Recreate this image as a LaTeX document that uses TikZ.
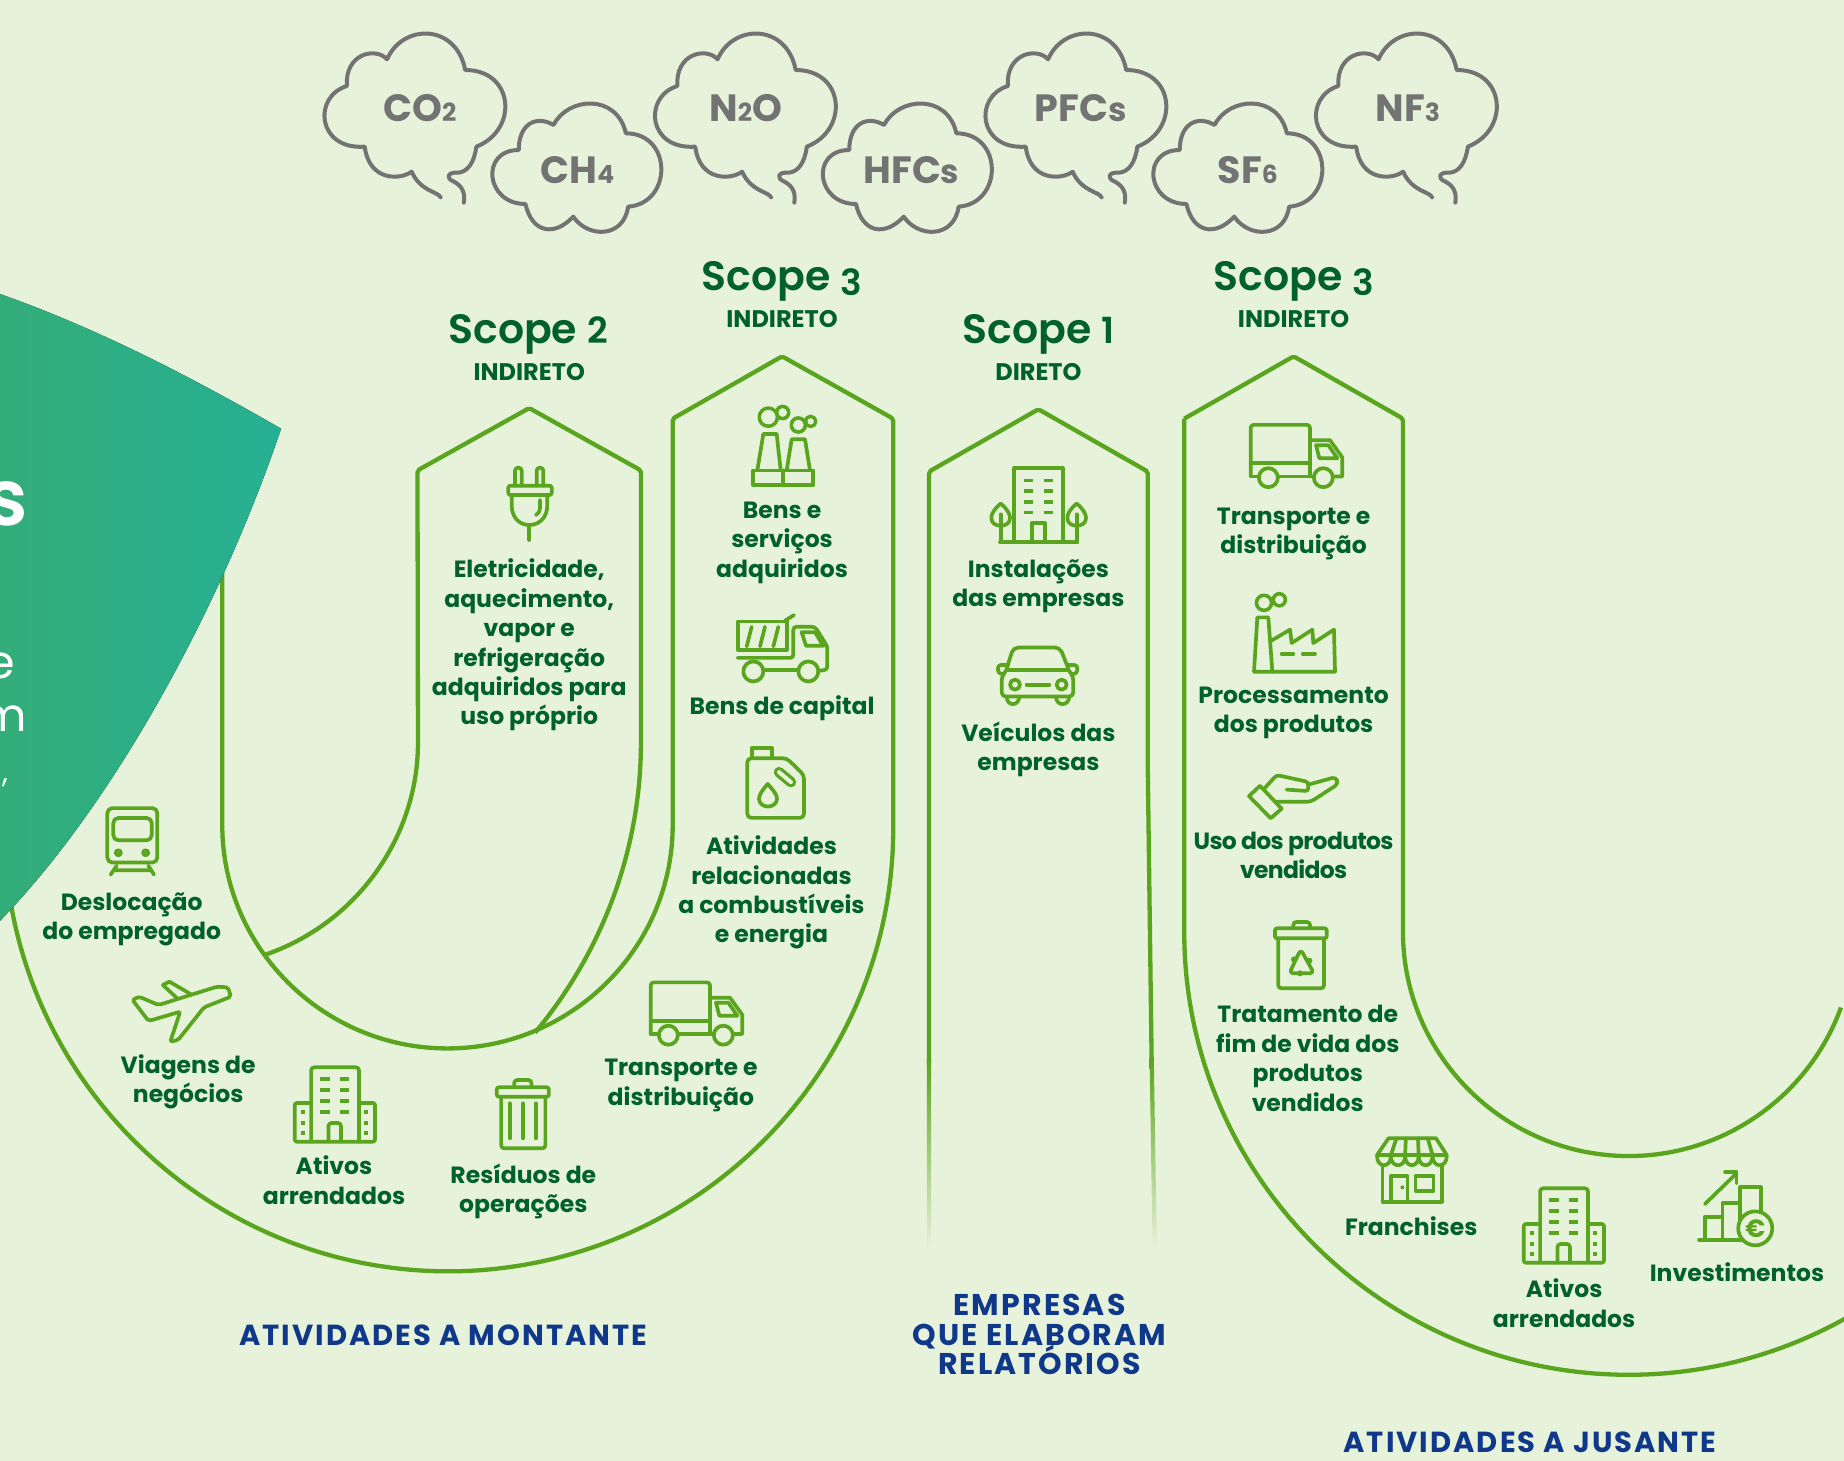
\documentclass[tikz,border=0pt]{standalone}
\usepackage{fontspec}
\setmainfont{Poppins}
\newfontfamily\itemface{Poppins}
\newfontfamily\tightface{Poppins}[LetterSpace=-3]
\newfontfamily\headface{Poppins SemiBold}
\newfontfamily\wideface{Poppins}[LetterSpace=7]
\setlength{\normallineskiplimit}{-50pt}
\setlength{\lineskiplimit}{-50pt}
\definecolor{bgc}{HTML}{E7F2DA}
\definecolor{linec}{HTML}{5AA51E}
\definecolor{dkgreen}{HTML}{00602E}
\definecolor{bluec}{HTML}{0F378A}
\definecolor{cloudc}{HTML}{737373}
\definecolor{tealL}{HTML}{33AD78}
\definecolor{tealR}{HTML}{26B094}
\tikzset{
  zoomed/.style n args={4}{shift={(#1pt,-#2pt)},x=#3pt,y=-#4pt},
  frameline/.style={draw=linec,line width=4.3pt,line join=round,rounded corners=2pt},
  ico/.style={draw=linec,line width=3.7pt,line join=round,line cap=round},
  cloudline/.style={draw=cloudc,line width=4pt,line join=round,line cap=round},
  itemtxt/.style={font=\fontsize{23.5}{29.4}\selectfont\bfseries\itemface,align=center,text=dkgreen,inner sep=0pt},
  tighttxt/.style={font=\fontsize{23.5}{29.4}\selectfont\bfseries\tightface,align=center,text=dkgreen,inner sep=0pt},
  scopetxt/.style={font=\fontsize{41}{46}\selectfont\headface,text=dkgreen,inner sep=0pt},
  kindtxt/.style={font=\fontsize{24}{28}\selectfont\bfseries,text=dkgreen,inner sep=0pt},
  bluetxt/.style={font=\fontsize{29}{29.4}\selectfont\bfseries\wideface,align=center,text=bluec,inner sep=0pt},
  bluetxtb/.style={font=\fontsize{30}{29.4}\selectfont\bfseries\wideface,align=center,text=bluec,inner sep=0pt},
  gastxt/.style={font=\fontsize{38}{40}\selectfont\bfseries,text=cloudc,inner sep=0pt},
  whitetxt/.style={text=white,inner sep=0pt,anchor=base east},
}
\newcommand\smalld[1]{{\fontsize{25}{26}\selectfont #1}}
\newcommand\smalls[1]{{\fontsize{33}{34}\selectfont #1}}
\newcommand\scdigit[1]{{\fontsize{36}{36}\selectfont #1}}
\newcommand\bigcloud[1]{\begin{scope}[zoomed={#1}{0}{0.44643}{0.33333}]
\draw[cloudline] (315,592) .. controls (310,575) and (270,575) .. (250,515)
 .. controls (225,540) and (155,545) .. (145,440)
 .. controls (38,450) and (28,290) .. (105,258)
 .. controls (100,160) and (170,140) .. (195,178)
 .. controls (230,70) and (350,70) .. (370,210)
 .. controls (480,210) and (490,390) .. (395,440)
 .. controls (390,490) and (375,515) .. (355,518)
 .. controls (330,515) and (325,535) .. (345,545)
 .. controls (365,560) and (370,580) .. (367,608);
\end{scope}}
\newcommand\smallcloud[1]{\begin{scope}[zoomed={#1}{0}{0.44643}{0.33333}]
\draw[cloudline] (505,612) .. controls (415,612) and (403,450) .. (490,450)
 .. controls (490,370) and (530,345) .. (568,375)
 .. controls (600,290) and (710,280) .. (730,400)
 .. controls (835,400) and (835,610) .. (735,620)
 .. controls (725,715) and (645,715) .. (612,650)
 .. controls (570,710) and (520,700) .. (505,612) -- cycle;
\end{scope}}
\newcommand\truckicon[2]{\begin{scope}[zoomed={#1}{#2}{0.33333}{0.38270}]
\draw[ico,rounded corners=3pt] (212,200) -- (212,65) -- (390,65) -- (390,200);
\draw[ico] (212,165) -- (390,165);
\draw[ico] (212,200) -- (235,200) (295,200) -- (400,200);
\draw[ico] (462,200) -- (487,200) -- (487,150) -- (450,105) -- (390,105);
\draw[ico] (408,118) -- (445,118) -- (472,152) -- (418,152) -- cycle;
\draw[ico] (265,203) circle[radius=9.5pt] (430,203) circle[radius=9.5pt];
\end{scope}}
\newcommand\officeicon[2]{\begin{scope}[zoomed={#1}{#2}{0.34698}{0.33333}]
\draw[ico,rounded corners=3pt] (692,488) -- (692,265) -- (830,265) -- (830,488);
\draw[ico,rounded corners=2pt] (692,372) -- (645,372) -- (645,488) -- (876,488) -- (876,372) -- (830,372);
\draw[ico,rounded corners=3pt] (742,488) -- (742,432) -- (778,432) -- (778,488);
\foreach \wy in {300,333,366,398}{\draw[ico,line cap=butt] (718,\wy) -- (745,\wy) (775,\wy) -- (802,\wy);}
\foreach \wy in {398,432,462}{\draw[ico,line cap=butt] (663,\wy) -- (673,\wy) (845,\wy) -- (855,\wy);}
\end{scope}}
\newcommand\leaficon[1]{\draw[ico] (#1,398) -- (#1,320);
\draw[ico] (#1,290) .. controls ({#1+20},305) and ({#1+28},320) .. ({#1+28},330) .. controls ({#1+28},345) and ({#1+15},352) .. (#1,352) .. controls ({#1-15},352) and ({#1-28},345) .. ({#1-28},330) .. controls ({#1-28},320) and ({#1-20},305) .. cycle;}
\begin{document}
\begin{tikzpicture}[x=1.17602pt,y=-1.17602pt]
\useasboundingbox (0,0) rectangle (1568,1242.3);
\fill[bgc] (0,0) rectangle (1568,1242.3);
\clip (0,0) rectangle (1568,1242.3);
% clouds
\bigcloud{300}\bigcloud{630.5}\bigcloud{961}\bigcloud{1291.5}
\smallcloud{300}\smallcloud{630.5}\smallcloud{961}
\node[gastxt] (co2) at (357,92) {CO\smalld{2}};
\node[gastxt] (ch4) at (491,145) {CH\smalld{4}};
\node[gastxt] (n2o) at (634,92) {N\smalld{2}O};
\node[gastxt] (hfcs) at (775,145) {HFC\smalls{s}};
\node[gastxt] (pfcs) at (919,92) {PFC\smalls{s}};
\node[gastxt] (sf6) at (1061,145) {SF\smalld{6}};
\node[gastxt] (nf3) at (1197,92) {NF\smalld{3}};
% frames
\draw[frameline] (7.2,755.6) arc[start angle=172,end angle=0,radius=378] -- (759.5,356) -- (665,303) -- (572,356) -- (572,700) arc[start angle=0,end angle=180,radius=191.5] -- (189,450);
\draw[frameline] (225,812) arc[start angle=71.2,end angle=0,radius=192.4] -- (355,400) -- (450,347) -- (545,400) -- (545,630) arc[start angle=0,end angle=39.9,radius=386.7];
\draw[frameline] (1007,356) -- (1100,303) -- (1193,356) -- (1193,791) arc[start angle=180,end angle=20,radius=192];
\draw[frameline] (1007,356) -- (1007,791) arc[start angle=180,end angle=30,radius=378];
\draw[frameline] (790,905) -- (790,401) -- (883,348) -- (976,401) -- (976,655) -- (979.3,905);
\shade[top color=linec,bottom color=bgc] (788.2,900) rectangle (791.8,1063);
\shade[top color=linec,bottom color=bgc] (977.5,900) -- (981.1,900) -- (983.7,1063) -- (980.1,1063) -- cycle;
% teal wedge
\fill[left color=tealL,right color=tealR] (0,250) .. controls (85,280) and (165,322) .. (239,364.5) .. controls (190,510) and (100,680) .. (0,783) -- cycle;
\node[whitetxt,font=\fontsize{78}{80}\selectfont\headface] (s1) at (24,447) {s};
\node[whitetxt,font=\fontsize{46}{50}\selectfont] (s2) at (13,577) {e};
\node[whitetxt,font=\fontsize{46}{50}\selectfont] (s3) at (23,622) {m};
\node[whitetxt,font=\fontsize{30}{34}\selectfont] (s4) at (7,665) {,};
% headings
\node[scopetxt] (sc2) at (449,284) {Scope \scdigit{2}};
\node[kindtxt] (k2) at (450,316.5) {INDIRETO};
\node[scopetxt] (sc3a) at (665,239) {Scope \raisebox{-.12em}{\scdigit{3}}};
\node[kindtxt] (k3a) at (665,271.5) {INDIRETO};
\node[scopetxt] (sc1) at (883,284) {Scope \scdigit{1}};
\node[kindtxt] (k1) at (883,316.5) {DIRETO};
\node[scopetxt] (sc3b) at (1100,239) {Scope \raisebox{-.12em}{\scdigit{3}}};
\node[kindtxt] (k3b) at (1100,271.5) {INDIRETO};
% items
\node[itemtxt] (el) at (450,548.5) {Eletricidade,\\aquecimento,\\vapor e\\refrigeração\\adquiridos para\\uso próprio};
\node[itemtxt] (be) at (665,461.5) {Bens e\\serviços\\adquiridos};
\node[itemtxt] (bc) at (665,602) {Bens de capital};
\node[itemtxt] (at) at (656,759) {Atividades\\relacionadas\\a combustíveis\\e energia};
\node[itemtxt] (tr1) at (579,923) {Transporte e\\distribuição};
\node[itemtxt] (re) at (445,1013) {Resíduos de\\operações};
\node[itemtxt] (ar1) at (284,1003.5) {Ativos\\arrendados};
\node[itemtxt] (vi) at (160,920) {Viagens de\\negócios};
\node[itemtxt] (de) at (112,782) {Deslocação\\do empregado};
\node[itemtxt] (ins) at (883,498.5) {Instalações\\das empresas};
\node[itemtxt] (ve) at (883,637) {Veículos das\\empresas};
\node[itemtxt] (tr2) at (1100,454) {Transporte e\\distribuição};
\node[itemtxt] (pr) at (1100,606) {Processamento\\dos produtos};
\node[tighttxt] (us) at (1100,727.5) {Uso dos produtos\\vendidos};
\node[itemtxt] (tt) at (1112,900) {Tratamento de\\fim de vida dos\\produtos\\vendidos};
\node[itemtxt] (fr) at (1200,1043) {Franchises};
\node[itemtxt] (ar2) at (1330,1108) {Ativos\\arrendados};
\node[itemtxt] (inv) at (1477,1081.5) {Investimentos};
% blue labels
\node[bluetxt] (up) at (377,1135) {ATIVIDADES A MONTANTE};
\node[bluetxtb] (rp) at (884,1135) {EMPRESAS\\QUE ELABORAM\\RELATÓRIOS};
\node[bluetxt] (dn) at (1301,1226) {ATIVIDADES A JUSANTE};
% plug
\begin{scope}[zoomed={490}{455}{0.33333}{0.33333}]
\draw[ico,rounded corners=3pt] (75,92) -- (75,38) -- (95,38) -- (95,92) (140,92) -- (140,38) -- (160,38) -- (160,92);
\draw[ico,rounded corners=2pt] (55,92) rectangle (185,120);
\draw[ico] (65,120) -- (65,150) .. controls (65,190) and (90,210) .. (118,210) .. controls (145,210) and (172,190) .. (172,150) -- (172,120);
\draw[ico] (118,210) -- (118,255);
\draw[ico] (150,135) -- (150,160) .. controls (150,170) and (145,175) .. (138,180);
\end{scope}
% factories, dump truck, canister, trees, car
\begin{scope}[zoomed={660}{400}{0.33333}{0.35714}]
\draw[ico] (280,197) rectangle (460,238) (370,197) -- (370,238);
\draw[ico] (292,197) -- (310,95) -- (350,95) -- (362,197);
\draw[ico] (380,197) -- (395,110) -- (435,110) -- (450,197);
\draw[ico] (325,48) circle[radius=9pt] (368,35) circle[radius=6pt] (415,70) circle[radius=7pt] (452,60) circle[radius=5pt];
\fill[bgc] (325,48) circle[radius=7.15pt] (368,35) circle[radius=4.15pt] (415,70) circle[radius=5.15pt] (452,60) circle[radius=3.15pt];
% dump truck
\draw[ico] (233,620) rectangle (380,700);
\draw[ico] (375,618) -- (402,602);
\draw[ico] (275,635) -- (260,690) (315,635) -- (300,690) (355,635) -- (340,690);
\draw[ico,rounded corners=3pt] (233,722) -- (400,722) -- (400,635) -- (465,635) -- (502,690) -- (502,755) -- (478,758);
\draw[ico] (425,650) -- (465,650) -- (490,688) -- (438,688) -- cycle;
\draw[ico] (280,760) circle[radius=10pt] (445,760) circle[radius=10pt];
\draw[ico] (312,755) -- (413,755);
% canister
\draw[ico,rounded corners=4pt] (262,1003) -- (380,1003) -- (432,1050) -- (432,1170) -- (262,1170) -- cycle;
\draw[ico] (275,1000) -- (275,975) -- (335,975) -- (335,1000);
\draw[linec,line width=10.5pt,line cap=round] (357,1042) -- (393,1070);
\draw[bgc,line width=4pt,line cap=round] (357,1042) -- (393,1070);
\draw[ico] (323,1075) .. controls (305,1095) and (297,1105) .. (297,1118) .. controls (300,1145) and (348,1145) .. (351,1118) .. controls (351,1105) and (342,1095) .. cycle;
% building with trees
\draw[ico,line cap=butt] (1063,398) -- (1063,190) -- (1208,190) -- (1208,398);
\draw[ico] (1020,398) -- (1252,398);
\draw[ico] (1115,398) -- (1115,345) -- (1155,345) -- (1155,398);
\foreach \wy in {225,255,285,315}{\draw[ico,line cap=butt] (1093,\wy) -- (1118,\wy) (1153,\wy) -- (1178,\wy);}
\leaficon{1022}
\leaficon{1250}
% car
\draw[ico,rounded corners=5pt] (1040,752) -- (1060,693) -- (1200,693) -- (1225,752);
\draw[ico] (1040,755) -- (1225,755);
\draw[ico,rounded corners=4pt] (1040,755) -- (1025,775) -- (1025,830) -- (1240,830) -- (1240,775) -- (1225,755);
\draw[ico,rounded corners=3pt] (1045,742) -- (1014,742) -- (1014,765) -- (1032,768);
\draw[ico,rounded corners=3pt] (1220,742) -- (1252,742) -- (1252,765) -- (1234,768);
\draw[ico] (1065,797) circle[radius=5pt] (1205,797) circle[radius=5pt];
\draw[ico] (1100,797) -- (1168,797);
\draw[ico] (1040,832) .. controls (1042,858) and (1075,858) .. (1078,832);
\draw[ico] (1188,832) .. controls (1190,858) and (1225,858) .. (1228,832);
\end{scope}
% trucks
\truckicon{1180}{400}
\truckicon{580}{957.5}
% factory, hand
\begin{scope}[zoomed={1180}{400}{0.33333}{0.38270}]
\draw[ico] (252,530) circle[radius=7.5pt] (298,522) circle[radius=6pt];
\fill[bgc] (252,530) circle[radius=5.65pt] (298,522) circle[radius=4.15pt];
\draw[ico] (222,710) -- (232,568) -- (265,568) -- (277,710);
\draw[ico] (222,710) -- (465,710) -- (462,600) -- (400,635) -- (397,600) -- (335,635) -- (330,600) -- (272,630);
\draw[ico] (305,663) -- (340,663) (368,663) -- (405,663);
\draw[ico] (207,1035) -- (240,1008) -- (305,1068) -- (272,1093) -- cycle;
\draw[ico,rounded corners=3pt] (250,1018) -- (290,980) -- (385,998) -- (385,1022) -- (320,1018);
\draw[ico,rounded corners=4pt] (385,1005) -- (468,985) -- (475,1003) -- (392,1050) -- (290,1050);
\end{scope}
% recycle bin
\begin{scope}[zoomed={1260}{910}{0.33333}{0.33333}]
\draw[ico,rounded corners=2pt] (45,55) rectangle (200,85);
\draw[ico,rounded corners=3pt] (100,55) -- (100,36) -- (150,36) -- (150,55);
\draw[ico,rounded corners=3pt] (55,85) -- (55,235) -- (192,235) -- (192,85);
\draw[ico,rounded corners=4pt] (122,118) -- (88,190) -- (162,190) -- cycle;
\fill[linec] (102,148) circle[radius=3pt] (148,152) circle[radius=3pt] (120,190) circle[radius=3pt];
\end{scope}
% store, office, investment
\begin{scope}[zoomed={1300}{1100}{0.34698}{0.33333}]
\draw[ico] (255,115) -- (392,115) -- (423,165) -- (222,165) -- cycle;
\draw[ico] (278,115) -- (262,165) (305,115) -- (303,165) (340,115) -- (342,165) (368,115) -- (382,165);
\foreach \ax/\bx in {222/262,262/303,303/342,342/382,382/423}{\draw[ico] (\ax,168) .. controls (\ax,205) and (\bx,205) .. (\bx,168);}
\draw[ico] (238,195) -- (238,305) -- (410,305) -- (410,195);
\draw[ico] (262,305) -- (262,228) -- (310,228) -- (310,305);
\fill[linec] (295,262) circle[radius=2pt];
\draw[ico] (333,228) rectangle (385,272);
\draw[ico] (1150,420) -- (1290,420);
\draw[ico] (1168,420) -- (1168,350) -- (1218,350) -- (1218,420);
\draw[ico] (1218,350) -- (1218,310) -- (1268,310) -- (1268,380);
\draw[ico] (1268,340) -- (1268,262) -- (1328,262) -- (1328,335);
\draw[ico,fill=bgc] (1312,385) circle[radius=17pt];
\node[font=\fontsize{25}{25}\selectfont\bfseries,text=linec,inner sep=0pt] (euro) at (1312,385) {€};
\draw[ico] (1167,312) -- (1258,220);
\draw[ico] (1225,215) -- (1258,215) -- (1258,250);
\end{scope}
\officeicon{1300}{1100}
\officeicon{71}{979}
% plane, trash
\begin{scope}[zoomed={100}{950}{0.43367}{0.33333}]
\draw[ico,rounded corners=2pt] (75,150) -- (90,140) -- (135,165) -- (270,110) -- (295,112) -- (302,140) -- (240,172) -- (180,270) -- (162,275) -- (185,185) -- (112,213) -- cycle;
\draw[ico] (210,133) -- (160,95) -- (145,105) -- (178,145);
\draw[ico,rounded corners=2pt] (915,412) rectangle (1035,440);
\draw[ico,rounded corners=3pt] (955,410) -- (955,390) -- (995,390) -- (995,410);
\draw[ico,rounded corners=3pt] (925,440) -- (925,595) -- (1027,595) -- (1027,440);
\draw[ico] (945,460) -- (945,565) (975,460) -- (975,565) (1005,460) -- (1005,565);
\end{scope}
% train
\begin{scope}[zoomed={0}{280}{0.33333}{0.44643}]
\draw[ico,rounded corners=5pt] (322,1183) rectangle (472,1305);
\draw[ico,rounded corners=5pt] (340,1255) -- (340,1205) -- (455,1205) -- (455,1255) -- cycle;
\draw[ico] (355,1283) circle[radius=2.5pt] (437,1283) circle[radius=2.5pt];
\draw[ico] (350,1312) -- (332,1332) (445,1312) -- (462,1332) (340,1322) -- (452,1322);
\end{scope}
\end{tikzpicture}
\end{document}
